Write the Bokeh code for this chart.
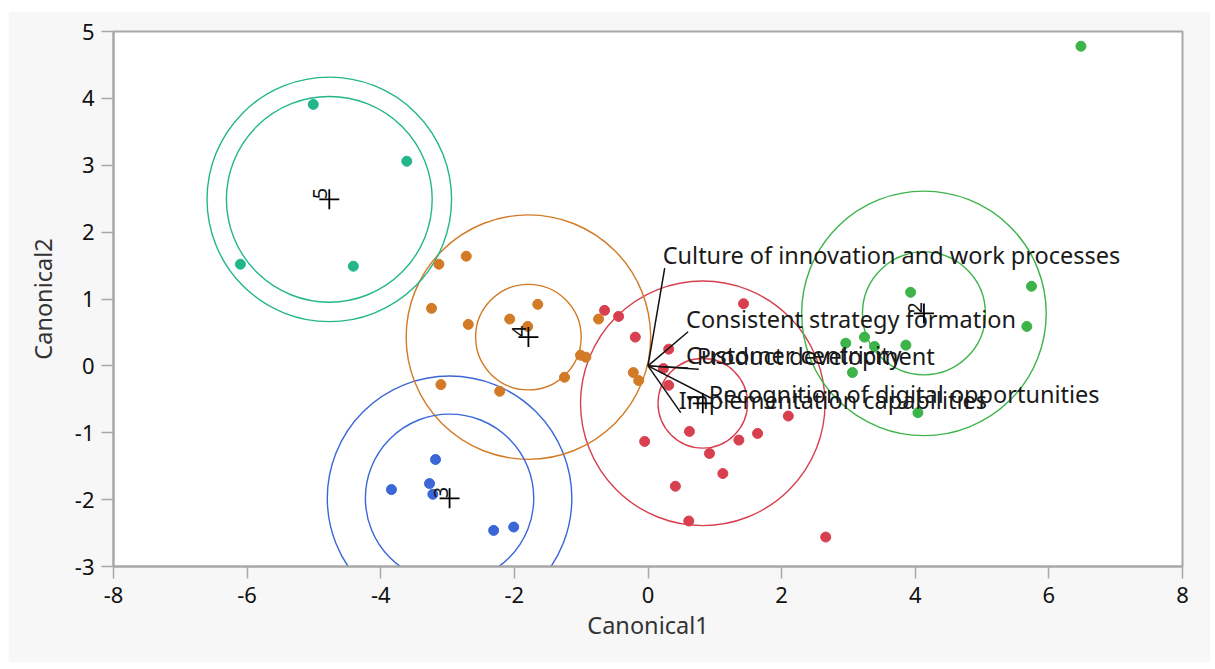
import numpy as np
from bokeh.plotting import figure
from bokeh.models import FixedTicker
from bokeh.core.properties import value
from bokeh.embed import file_html
from bokeh.resources import INLINE

# ---------------- data ----------------
groups = ["1", "2", "3", "4", "5"]
group_colors = ["#d8404f", "#3cb44a", "#3a66d8", "#d27a26", "#22b68a"]

g1_x = [-0.65, -0.44, 1.43, -0.19, 0.31, 0.23, 0.31, 2.10, 0.62, 1.64, 1.36, -0.05, 0.92, 1.12, 0.41, 0.61, 2.66]
g1_y = [0.83, 0.74, 0.93, 0.43, 0.25, -0.04, -0.29, -0.75, -0.98, -1.01, -1.11, -1.13, -1.31, -1.61, -1.80, -2.32, -2.56]

g2_x = [6.48, 5.74, 5.67, 3.93, 3.24, 2.96, 3.39, 3.86, 3.06, 4.04]
g2_y = [4.78, 1.19, 0.59, 1.10, 0.43, 0.34, 0.29, 0.31, -0.10, -0.70]

g3_x = [-3.18, -3.84, -3.27, -3.22, -2.31, -2.01]
g3_y = [-1.40, -1.85, -1.76, -1.92, -2.46, -2.41]

g4_x = [-3.13, -2.72, -3.24, -2.69, -2.07, -1.65, -1.80, -0.74, -1.01, -0.93, -1.25, -0.22, -0.14, -3.10, -2.22]
g4_y = [1.52, 1.64, 0.86, 0.62, 0.70, 0.92, 0.59, 0.70, 0.16, 0.13, -0.17, -0.10, -0.22, -0.28, -0.38]

g5_x = [-5.01, -3.61, -6.10, -4.41]
g5_y = [3.91, 3.06, 1.52, 1.49]

centroid_x = [0.82, 4.13, -2.97, -1.79, -4.77]
centroid_y = [-0.56, 0.785, -1.98, 0.43, 2.49]
inner_radius = [0.67, 0.92, 1.26, 0.79, 1.54]
outer_radius = [1.83, 1.83, 1.83, 1.83, 1.83]

ray_names = ["Culture of innovation and work processes",
             "Consistent strategy formation",
             "Product development",
             "Customer centricity",
             "Recognition of digital opportunities",
             "Implementation capabilities"]
ray_x = [0.25, 0.60, 0.76, 0.60, 0.94, 0.49]
ray_y = [1.46, 0.51, -0.05, -0.03, -0.48, -0.70]

x_ticks = [-8, -6, -4, -2, 0, 2, 4, 6, 8]
y_ticks = [-3, -2, -1, 0, 1, 2, 3, 4, 5]

# ---------------- figure ----------------
FONT = "Noto Sans"
p = figure(width=1202, height=651, x_range=(-8, 8), y_range=(-3, 5),
           output_backend="svg", toolbar_location=None, margin=(11, 5, 7, 8),
           min_border_left=105, min_border_right=28, min_border_top=20, min_border_bottom=96)
p.border_fill_color = "#f7f7f7"
p.background_fill_color = "#ffffff"
p.outline_line_color = "#a8a8a8"
p.outline_line_width = 2
p.grid.visible = False

for ax in (p.xaxis[0], p.yaxis[0]):
    ax.axis_line_color = "#a8a8a8"
    ax.axis_line_width = 2
    ax.major_tick_line_color = "#a8a8a8"
    ax.major_tick_line_width = 1.5
    ax.major_tick_out = 12
    ax.major_tick_in = 0
    ax.minor_tick_line_color = None
    ax.major_label_text_font = FONT
    ax.major_label_text_font_size = "22px"
    ax.major_label_text_color = "#111111"
    ax.axis_label_text_font = FONT
    ax.axis_label_text_font_size = "23.5px"
    ax.axis_label_text_font_style = "normal"
    ax.axis_label_text_color = "#333333"

p.xaxis[0].ticker = FixedTicker(ticks=x_ticks)
p.yaxis[0].ticker = FixedTicker(ticks=y_ticks)
p.xaxis[0].major_label_overrides = {t: str(t) for t in x_ticks}
p.yaxis[0].major_label_overrides = {t: str(t) for t in y_ticks}
p.xaxis[0].axis_label = "Canonical1"
p.yaxis[0].axis_label = "Canonical2"
p.xaxis[0].major_label_standoff = 8
p.yaxis[0].major_label_standoff = 7
p.xaxis[0].axis_label_standoff = 3
p.yaxis[0].axis_label_standoff = 13

# circles
p.circle(x=centroid_x, y=centroid_y, radius=outer_radius, fill_color=None,
         line_color=group_colors, line_width=1.4)
p.circle(x=centroid_x, y=centroid_y, radius=inner_radius, fill_color=None,
         line_color=group_colors, line_width=1.4)

# points
all_x = [g1_x, g2_x, g3_x, g4_x, g5_x]
all_y = [g1_y, g2_y, g3_y, g4_y, g5_y]
for xs, ys, c in zip(all_x, all_y, group_colors):
    p.scatter(x=xs, y=ys, size=10, fill_color=c, line_color=c, marker="circle")

# biplot rays
n = len(ray_x)
p.segment(x0=[0] * n, y0=[0] * n, x1=ray_x, y1=ray_y, line_color="#111111", line_width=1.5)
label_dy = [3, 3, 3, 3, 12, 3]
p.text(x=ray_x, y=ray_y, text=ray_names, text_font=value(FONT), text_font_size="23.5px",
       text_color="#1a1a1a", text_align="left", text_baseline="bottom", x_offset=-2,
       y_offset=label_dy)

# centroid markers
p.scatter(x=centroid_x, y=centroid_y, marker="cross", size=20, line_color="#000000", line_width=1.8)
p.text(x=centroid_x, y=centroid_y, text=groups, angle=np.pi / 2, text_font=value(FONT),
       text_font_size="20px", text_color="#111111", text_align="left", text_baseline="bottom",
       x_offset=-2, y_offset=0)

open("out.html", "w").write(file_html(p, INLINE))
